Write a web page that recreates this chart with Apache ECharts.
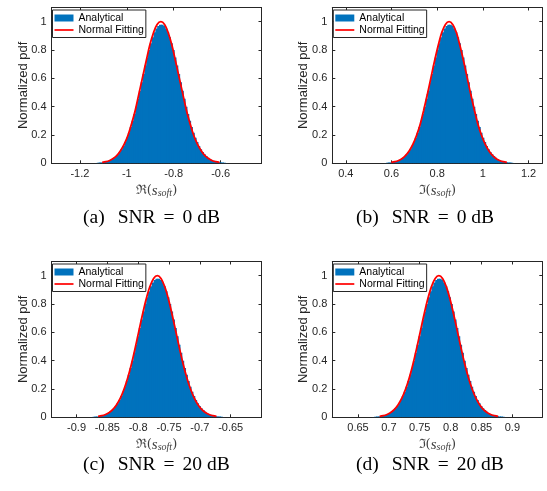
<!DOCTYPE html>
<html><head><meta charset="utf-8">
<script src="https://cdn.jsdelivr.net/npm/echarts@6/dist/echarts.min.js"></script>
<style>html,body{margin:0;padding:0;background:#fff}#c{width:547px;height:491px}</style>
</head><body><div id="c"></div>
<script>
// ---------- data ----------
const yTicks = [0, 0.2, 0.4, 0.6, 0.8, 1];
const yRange = [0, 1.1];

const xTicksA = [-1.2, -1, -0.8, -0.6];
const xTicksB = [0.4, 0.6, 0.8, 1, 1.2];
const xTicksC = [-0.9, -0.85, -0.8, -0.75, -0.7, -0.65];
const xTicksD = [0.65, 0.7, 0.75, 0.8, 0.85, 0.9];

const xRangeA = [-1.321, -0.426];
const xRangeB = [0.341, 1.26];
const xRangeC = [-0.9406, -0.6];
const xRangeD = [0.6084, 0.9485];

// Normal-fitting curve: x positions per panel, shared normalized heights
const fitXA = [-1.105,-1.089,-1.073,-1.058,-1.042,-1.027,-1.011,-0.995,-0.980,-0.964,-0.949,-0.933,-0.917,-0.902,-0.886,-0.871,-0.855,-0.839,-0.824,-0.808,-0.793,-0.777,-0.761,-0.746,-0.730,-0.715,-0.699,-0.683,-0.668,-0.652,-0.637,-0.621,-0.605];
const fitXB = [0.599,0.615,0.631,0.647,0.662,0.678,0.694,0.710,0.726,0.741,0.757,0.773,0.789,0.805,0.820,0.836,0.852,0.868,0.884,0.899,0.915,0.931,0.947,0.963,0.978,0.994,1.010,1.026,1.042,1.057,1.073,1.089,1.105];
const fitXC = [-0.865,-0.859,-0.853,-0.847,-0.841,-0.835,-0.829,-0.823,-0.817,-0.811,-0.805,-0.799,-0.793,-0.787,-0.781,-0.775,-0.769,-0.763,-0.757,-0.751,-0.745,-0.739,-0.733,-0.727,-0.721,-0.715,-0.709,-0.703,-0.697,-0.691,-0.685,-0.679,-0.673];
const fitXD = [0.685,0.691,0.697,0.703,0.709,0.715,0.721,0.727,0.733,0.739,0.745,0.751,0.757,0.763,0.769,0.775,0.781,0.787,0.793,0.799,0.805,0.811,0.817,0.823,0.829,0.835,0.841,0.847,0.853,0.859,0.865,0.871,0.877];
const fitY = [0.006,0.011,0.020,0.034,0.056,0.089,0.135,0.198,0.278,0.375,0.487,0.607,0.726,0.835,0.923,0.980,1.000,0.980,0.923,0.835,0.726,0.607,0.487,0.375,0.278,0.198,0.135,0.089,0.056,0.034,0.020,0.011,0.006];

// Analytical histogram: bin start / bin width per panel, shared normalized bin heights
const histBinA = [-1.1358, 0.0078];
const histBinB = [0.5676, 0.0079];
const histBinC = [-0.877, 0.003];
const histBinD = [0.673, 0.003];
const histH = [0.003,0.004,0.005,0.006,0.008,0.011,0.014,0.018,0.024,0.031,0.040,0.051,0.064,0.080,0.100,0.123,0.150,0.181,0.216,0.256,0.300,0.348,0.400,0.455,0.513,0.572,0.631,0.690,0.747,0.800,0.848,0.890,0.925,0.952,0.970,0.978,
               0.978,0.970,0.952,0.925,0.890,0.848,0.800,0.747,0.690,0.631,0.572,0.513,0.455,0.400,0.348,0.300,0.256,0.216,0.181,0.150,0.123,0.100,0.080,0.064,0.051,0.040,0.031,0.024,0.018,0.014,0.011,0.008,0.006,0.005,0.004,0.003];

const legendNames = ['Analytical', 'Normal Fitting'];
const yName = 'Normalized pdf';
const xNames = ['ℜ', 'ℑ', 'ℜ', 'ℑ'];
const capLetters = ['(a)', '(b)', '(c)', '(d)'];
const capSNR = ['0', '0', '20', '20'];

// ---------- layout ----------
const panels = [
  {left: 51.5, top: 7.5, ticks: xTicksA, range: xRangeA, fitX: fitXA, bin: histBinA, cap: [78, 203]},
  {left: 332.3, top: 7.5, ticks: xTicksB, range: xRangeB, fitX: fitXB, bin: histBinB, cap: [351, 203]},
  {left: 51.5, top: 261.5, ticks: xTicksC, range: xRangeC, fitX: fitXC, bin: histBinC, cap: [78, 450]},
  {left: 332.3, top: 261.5, ticks: xTicksD, range: xRangeD, fitX: fitXD, bin: histBinD, cap: [351, 450]}
];
const W = 210, H = 155.8;
const axisCol = '#262626';
const sans = "'Liberation Sans', Arial, Helvetica, sans-serif";
const serif = "'Liberation Serif', 'Times New Roman', serif";
const mathSerif = "'DejaVu Serif', 'Liberation Serif', serif";

function renderHist(params, api) {
  const p0 = api.coord([api.value(0), api.value(2)]);
  const p1 = api.coord([api.value(1), 0]);
  return {
    type: 'rect',
    shape: {x: p0[0], y: p0[1], width: p1[0] - p0[0] + 1, height: p1[1] - p0[1]},
    style: {fill: '#0072BD'}
  };
}

const option = {
  animation: false,
  backgroundColor: '#fff',
  grid: [], xAxis: [], yAxis: [], series: [], legend: [], title: []
};

panels.forEach((p, i) => {
  option.grid.push({left: p.left, top: p.top, width: W, height: H, containLabel: false});
  const tickCommon = {show: true, inside: true, length: 3, lineStyle: {color: axisCol, width: 1}};
  const lineCommon = {show: true, onZero: false, lineStyle: {color: axisCol, width: 1}};
  option.xAxis.push({
    type: 'value', gridIndex: i, position: 'bottom', min: p.range[0], max: p.range[1],
    axisLine: lineCommon,
    axisTick: Object.assign({customValues: p.ticks}, tickCommon),
    axisLabel: {customValues: p.ticks, color: axisCol, fontFamily: sans, fontSize: 11, margin: 5},
    splitLine: {show: false},
    name: '{m|' + xNames[i] + '(}{s|s}{b|soft}{m|)}',
    nameLocation: 'middle', nameGap: 20, nameMoveOverlap: false,
    nameTextStyle: {
      color: '#404040',
      rich: {
        m: {fontFamily: mathSerif, fontSize: 13, color: '#404040'},
        s: {fontFamily: serif, fontStyle: 'italic', fontSize: 15, color: '#404040'},
        b: {fontFamily: serif, fontStyle: 'italic', fontSize: 10, color: '#404040', verticalAlign: 'bottom', lineHeight: 7}
      }
    }
  });
  option.xAxis.push({
    type: 'value', gridIndex: i, position: 'top', min: p.range[0], max: p.range[1],
    axisLine: lineCommon,
    axisTick: Object.assign({customValues: p.ticks}, tickCommon),
    axisLabel: {show: false}, splitLine: {show: false}
  });
  option.yAxis.push({
    type: 'value', gridIndex: i, position: 'left', min: yRange[0], max: yRange[1],
    axisLine: lineCommon,
    axisTick: Object.assign({customValues: yTicks}, tickCommon),
    axisLabel: {customValues: yTicks, color: axisCol, fontFamily: sans, fontSize: 11, margin: 5},
    splitLine: {show: false},
    name: yName, nameLocation: 'middle', nameGap: 22, nameMoveOverlap: false,
    nameTextStyle: {color: axisCol, fontFamily: sans, fontSize: 13}
  });
  option.yAxis.push({
    type: 'value', gridIndex: i, position: 'right', min: yRange[0], max: yRange[1],
    axisLine: lineCommon,
    axisTick: Object.assign({customValues: yTicks}, tickCommon),
    axisLabel: {show: false}, splitLine: {show: false}
  });

  const histData = histH.map((h, k) => [p.bin[0] + k * p.bin[1], p.bin[0] + (k + 1) * p.bin[1], h]);
  option.series.push({
    type: 'custom', name: legendNames[0], xAxisIndex: 2 * i, yAxisIndex: 2 * i,
    renderItem: renderHist, data: histData, encode: {x: [0, 1], y: 2}, clip: true,
    itemStyle: {color: '#0072BD'}, z: 2
  });
  option.series.push({
    type: 'line', name: legendNames[1], xAxisIndex: 2 * i, yAxisIndex: 2 * i,
    data: p.fitX.map((x, k) => [x, fitY[k]]), smooth: 0.35, symbol: 'none', showSymbol: false,
    lineStyle: {color: '#FF0000', width: 1.8}, itemStyle: {color: '#FF0000'}, z: 3
  });

  option.legend.push({
    left: p.left + 1, top: p.top + 2.5, orient: 'vertical',
    data: [
      {name: legendNames[0], icon: 'rect'},
      {name: legendNames[1], icon: 'path://M0,0H20V1.8H0Z', itemStyle: {color: '#FF0000'}}
    ],
    itemWidth: 19, itemHeight: 7, itemGap: 0, symbolKeepAspect: true,
    padding: [2, 2, 1.5, 2],
    borderColor: axisCol, borderWidth: 1, backgroundColor: '#fff',
    selectedMode: false,
    textStyle: {color: '#000', fontFamily: sans, fontSize: 10.5, lineHeight: 12}
  });

  option.title.push({
    left: p.cap[0], top: p.cap[1],
    text: '{t|' + capLetters[i] + '}{g|}{t|SNR}{e|=}{t|' + capSNR[i] + ' dB}',
    textStyle: {
      fontWeight: 'normal',
      rich: {
        t: {fontFamily: serif, fontSize: 19.5, fontWeight: 'normal', color: '#000'},
        g: {width: 13},
        e: {fontFamily: serif, fontSize: 19.5, fontWeight: 'normal', color: '#000', padding: [0, 8, 0, 8]}
      }
    }
  });
});

const chart = echarts.init(document.getElementById('c'), null, {renderer: 'canvas'});
chart.setOption(option);
</script>
</body></html>
